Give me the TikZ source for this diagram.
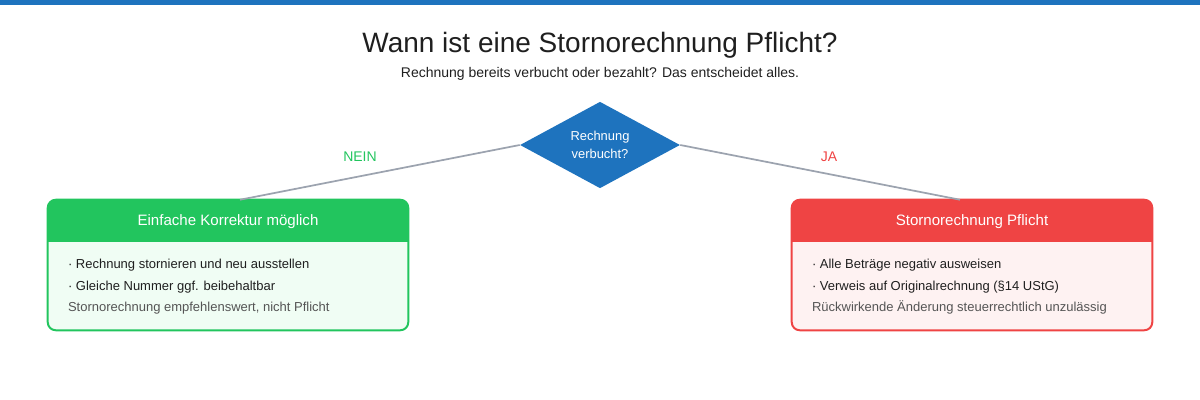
\documentclass[tikz,border=0pt]{standalone}
\usepackage{fontspec}
\setmainfont{Liberation Sans}
\usepackage{tikz}
\usetikzlibrary{arrows.meta, positioning, shapes.geometric, calc}
\usepackage{xcolor}
\definecolor{sblue}{HTML}{1E73BE}
\definecolor{sgray}{HTML}{9CA3AF}
\definecolor{sgood}{HTML}{22C55E}
\definecolor{slightgood}{HTML}{F0FDF4}
\definecolor{sbad}{HTML}{EF4444}
\definecolor{slightbad}{HTML}{FEF2F2}
\definecolor{stext}{HTML}{1F1F1F}
\definecolor{snote}{HTML}{555555}
\tikzset{
  decision/.style={diamond, fill=sblue, text=white, inner sep=0pt,
                   minimum width=120pt, minimum height=61.5pt, align=center,
                   font=\fontsize{9.7}{13.5}\selectfont},
  resbox/.style={rounded corners=6pt,
                 minimum width=270pt, minimum height=97.5pt, inner sep=0pt},
  headtxt/.style={text=white, font=\fontsize{11.3}{13}\selectfont},
  itemtxt/.style={anchor=west, text=stext, inner sep=0pt, font=\fontsize{9.75}{11}\selectfont},
  notetxt/.style={anchor=west, text=snote, inner sep=0pt, font=\fontsize{9.75}{11}\selectfont},
  branch/.style={draw=sgray, line width=1.3pt},
  blabel/.style={font=\fontsize{10.5}{12}\selectfont},
}
\begin{document}
\begin{tikzpicture}[x=0.75pt, y=-0.75pt]
  \useasboundingbox (0,0) rectangle (1200,400);
  \fill[sblue] (0,0) rectangle (1200,5);

  \node[font=\fontsize{21}{25}\selectfont, text=stext] (title) at (600,45)
    {Wann ist eine Stornorechnung Pflicht?};
  \node[font=\fontsize{10.5}{12}\selectfont, text=stext] (subtitle) at (600,74)
    {Rechnung bereits verbucht oder bezahlt? Das entscheidet alles.};

  \node[decision] (dec) at (600,145) {Rechnung\\verbucht?};

  % result boxes
  \node[resbox, fill=slightgood] (lbox) at (228,265) {};
  \node[resbox, fill=slightbad] (rbox) at (972,265) {};
  \foreach \b/\c in {lbox/sgood, rbox/sbad}{
    \begin{scope}
      \clip[rounded corners=6pt] (\b.south west) rectangle (\b.north east);
      \fill[\c] (\b.north west) rectangle ($(\b.north east)+(0,42)$);
    \end{scope}
    \draw[\c, line width=1.5pt, rounded corners=6pt] (\b.south west) rectangle (\b.north east);
  }
  \node[headtxt] (lhead) at ($(lbox.north)+(0,22)$) {Einfache Korrektur möglich};
  \node[headtxt] (rhead) at ($(rbox.north)+(0,22)$) {Stornorechnung Pflicht};

  \node[itemtxt] (l1) at ($(lbox.north west)+(20,65)$) {· Rechnung stornieren und neu ausstellen};
  \node[itemtxt] (l2) at ($(lbox.north west)+(20,87)$) {· Gleiche Nummer ggf. beibehaltbar};
  \node[notetxt] (l3) at ($(lbox.north west)+(20,108)$) {Stornorechnung empfehlenswert, nicht Pflicht};
  \node[itemtxt] (r1) at ($(rbox.north west)+(20,65)$) {· Alle Beträge negativ ausweisen};
  \node[itemtxt] (r2) at ($(rbox.north west)+(20,87)$) {· Verweis auf Originalrechnung (§14 UStG)};
  \node[notetxt] (r3) at ($(rbox.north west)+(20,108)$) {Rückwirkende Änderung steuerrechtlich unzulässig};

  \draw[branch] (dec.west) -- ([xshift=9pt]lbox.north);
  \draw[branch] (dec.east) -- ([xshift=-9pt]rbox.north);
  \node[blabel, text=sgood] (nein) at (360,157) {NEIN};
  \node[blabel, text=sbad] (ja) at (829,157) {JA};
\end{tikzpicture}
\end{document}
